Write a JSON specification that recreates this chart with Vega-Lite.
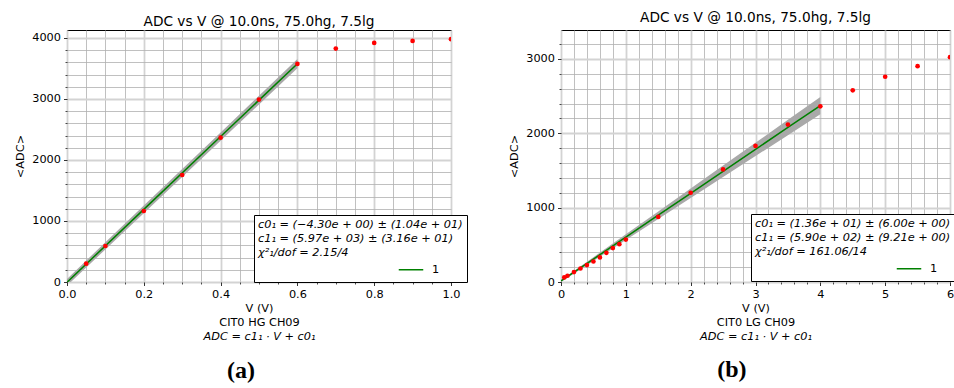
{
  "$schema": "https://vega.github.io/schema/vega-lite/v6.json",
  "background": "white",
  "padding": {"left": 14, "top": 10, "right": 0, "bottom": 0},
  "spacing": 40,
  "datasets": {
    "hg_pts": [
      {"V": 0.05, "adc": 300}, {"V": 0.1, "adc": 590}, {"V": 0.2, "adc": 1164}, {"V": 0.3, "adc": 1754},
      {"V": 0.4, "adc": 2366}, {"V": 0.5, "adc": 2989}, {"V": 0.6, "adc": 3574}, {"V": 0.7, "adc": 3825},
      {"V": 0.8, "adc": 3918}, {"V": 0.9, "adc": 3951}, {"V": 1.0, "adc": 3979}
    ],
    "hg_fit": [
      {"V": 0.0, "fit": -4.3, "lo": -60, "hi": 51},
      {"V": 0.2, "fit": 1189.7, "lo": 1127, "hi": 1252},
      {"V": 0.4, "fit": 2383.7, "lo": 2315, "hi": 2452},
      {"V": 0.6, "fit": 3577.7, "lo": 3502, "hi": 3653}
    ],
    "lg_pts": [
      {"V": 0.05, "adc": 62}, {"V": 0.1, "adc": 84}, {"V": 0.2, "adc": 134}, {"V": 0.3, "adc": 182},
      {"V": 0.4, "adc": 228}, {"V": 0.5, "adc": 276}, {"V": 0.6, "adc": 330}, {"V": 0.7, "adc": 393},
      {"V": 0.8, "adc": 456}, {"V": 0.9, "adc": 509}, {"V": 1.0, "adc": 571}, {"V": 1.5, "adc": 875},
      {"V": 2.0, "adc": 1201}, {"V": 2.5, "adc": 1515}, {"V": 3.0, "adc": 1831}, {"V": 3.5, "adc": 2118},
      {"V": 4.0, "adc": 2363}, {"V": 4.5, "adc": 2578}, {"V": 5.0, "adc": 2761}, {"V": 5.5, "adc": 2903},
      {"V": 6.0, "adc": 3024}
    ],
    "lg_fit": [
      {"V": 0.0, "fit": 13.6, "lo": -0.4, "hi": 27.6},
      {"V": 0.5, "fit": 308.6, "lo": 283.6, "hi": 333.6},
      {"V": 1.0, "fit": 603.6, "lo": 565.6, "hi": 641.6},
      {"V": 1.5, "fit": 898.6, "lo": 847.6, "hi": 949.6},
      {"V": 2.0, "fit": 1193.6, "lo": 1129.6, "hi": 1257.6},
      {"V": 2.5, "fit": 1488.6, "lo": 1411.6, "hi": 1565.6},
      {"V": 3.0, "fit": 1783.6, "lo": 1693.6, "hi": 1873.6},
      {"V": 3.5, "fit": 2078.6, "lo": 1975.6, "hi": 2181.6},
      {"V": 4.0, "fit": 2373.6, "lo": 2257.6, "hi": 2489.6}
    ]
  },
  "config": {
    "font": "DejaVu Sans",
    "view": {"stroke": "black", "strokeWidth": 1},
    "axis": {
      "labelFont": "DejaVu Sans", "labelFontSize": 11.3, "labelColor": "black",
      "titleFont": "DejaVu Sans", "titleFontSize": 11.3, "titleFontWeight": "normal", "titleColor": "black",
      "tickColor": "black", "domain": false, "labelFlush": false, "labelOverlap": false
    },
    "legend": {
      "orient": "none", "titleFont": "DejaVu Sans", "titleFontSize": 11.3, "titleFontWeight": "normal",
      "titleFontStyle": "italic", "titleColor": "black", "titleLineHeight": 14, "titleLimit": 400, "titlePadding": 4,
      "labelFont": "DejaVu Sans", "labelFontSize": 11.3, "labelColor": "black",
      "strokeColor": "black", "fillColor": "white", "padding": 4,
      "symbolType": "stroke", "symbolStrokeWidth": 1.5, "symbolSize": 600, "clipHeight": 15
    }
  },
  "hconcat": [
    {
      "title": {"text": "(a)", "orient": "bottom", "anchor": "middle", "font": "Liberation Serif", "fontSize": 24, "fontWeight": "bold", "color": "black", "offset": 17},
      "vconcat": [
        {
          "width": 384, "height": 252,
          "title": {"text": "ADC vs V @ 10.0ns, 75.0hg, 7.5lg", "font": "DejaVu Sans", "fontSize": 13.7, "fontWeight": "normal", "color": "black", "offset": 1.5},
          "layer": [
            {
              "data": {"name": "hg_fit"},
              "mark": {"type": "area", "color": "#a9a9a9", "opacity": 1, "clip": true},
              "encoding": {
                "x": {"field": "V", "type": "quantitative", "scale": {"domain": [0, 1], "nice": false},
                  "axis": {"orient": "bottom", "values": [0.05, 0.1, 0.15, 0.25, 0.3, 0.35, 0.45, 0.5, 0.55, 0.65, 0.7, 0.75, 0.85, 0.9, 0.95],
                    "labels": false, "tickSize": 2, "tickWidth": 0.7, "grid": true, "gridColor": "#b0b0b0", "gridWidth": 0.8,
                    "title": "ADC = c1₁ · V + c0₁", "titleFontStyle": "italic", "titlePadding": 46}},
                "y": {"field": "lo", "type": "quantitative", "scale": {"domain": [0, 4130], "nice": false, "zero": false},
                  "axis": {"orient": "left", "values": [200, 400, 600, 800, 1200, 1400, 1600, 1800, 2200, 2400, 2600, 2800, 3200, 3400, 3600, 3800],
                    "labels": false, "tickSize": 2, "tickWidth": 0.7, "grid": true, "gridColor": "#b0b0b0", "gridWidth": 0.8, "title": null}},
                "y2": {"field": "hi"}
              }
            },
            {
              "data": {"name": "hg_fit"},
              "mark": {"type": "line", "strokeWidth": 1.5, "clip": true},
              "encoding": {
                "x": {"field": "V", "type": "quantitative",
                  "axis": {"orient": "bottom", "values": [0, 0.2, 0.4, 0.6, 0.8, 1.0], "format": ".1f", "tickSize": 3.5, "tickWidth": 0.8,
                    "labelPadding": 3, "grid": true, "gridColor": "#d3d3d3", "gridWidth": 1.8,
                    "title": ["V (V)", "CIT0 HG CH09"], "titlePadding": 3, "titleLineHeight": 13.5}},
                "y": {"field": "fit", "type": "quantitative",
                  "axis": {"orient": "left", "values": [0, 1000, 2000, 3000, 4000], "format": "d", "tickSize": 3.5, "tickWidth": 0.8,
                    "labelPadding": 3, "grid": true, "gridColor": "#d3d3d3", "gridWidth": 1.8,
                    "title": "<ADC>", "titlePadding": 6}},
                "color": {"datum": "1", "type": "nominal", "scale": {"range": ["green"]},
                  "legend": {"title": ["c0₁ = (−4.30e + 00) ± (1.04e + 01)", "c1₁ = (5.97e + 03) ± (3.16e + 01)", "χ²₁/dof = 2.15/4"],
                    "legendX": 187, "legendY": 185, "symbolOffset": 140, "labelOffset": 8}}
              }
            },
            {
              "data": {"name": "hg_pts"},
              "mark": {"type": "circle", "color": "red", "size": 22, "opacity": 1, "clip": true},
              "encoding": {
                "x": {"field": "V", "type": "quantitative", "axis": null},
                "y": {"field": "adc", "type": "quantitative", "axis": null}
              }
            }
          ],
          "resolve": {"axis": {"x": "independent", "y": "independent"}}
        }
      ]
    },
    {
      "title": {"text": "(b)", "orient": "bottom", "anchor": "middle", "font": "Liberation Serif", "fontSize": 24, "fontWeight": "bold", "color": "black", "offset": 16},
      "vconcat": [
        {
          "width": 389, "height": 252,
          "title": {"text": "ADC vs V @ 10.0ns, 75.0hg, 7.5lg", "font": "DejaVu Sans", "fontSize": 13.7, "fontWeight": "normal", "color": "black", "offset": 5.5},
          "layer": [
            {
              "data": {"name": "lg_fit"},
              "mark": {"type": "area", "color": "#a9a9a9", "opacity": 1, "clip": true},
              "encoding": {
                "x": {"field": "V", "type": "quantitative", "scale": {"domain": [0, 6], "nice": false},
                  "axis": {"orient": "bottom", "values": [0.2, 0.4, 0.6, 0.8, 1.2, 1.4, 1.6, 1.8, 2.2, 2.4, 2.6, 2.8, 3.2, 3.4, 3.6, 3.8, 4.2, 4.4, 4.6, 4.8, 5.2, 5.4, 5.6, 5.8],
                    "labels": false, "tickSize": 2, "tickWidth": 0.7, "grid": true, "gridColor": "#b0b0b0", "gridWidth": 0.8,
                    "title": "ADC = c1₁ · V + c0₁", "titleFontStyle": "italic", "titlePadding": 46}},
                "y": {"field": "lo", "type": "quantitative", "scale": {"domain": [0, 3390], "nice": false, "zero": false},
                  "axis": {"orient": "left", "values": [200, 400, 600, 800, 1200, 1400, 1600, 1800, 2200, 2400, 2600, 2800, 3200],
                    "labels": false, "tickSize": 2, "tickWidth": 0.7, "grid": true, "gridColor": "#b0b0b0", "gridWidth": 0.8, "title": null}},
                "y2": {"field": "hi"}
              }
            },
            {
              "data": {"name": "lg_fit"},
              "mark": {"type": "line", "strokeWidth": 1.5, "clip": true},
              "encoding": {
                "x": {"field": "V", "type": "quantitative",
                  "axis": {"orient": "bottom", "values": [0, 1, 2, 3, 4, 5, 6], "format": "d", "tickSize": 3.5, "tickWidth": 0.8,
                    "labelPadding": 3, "grid": true, "gridColor": "#d3d3d3", "gridWidth": 1.8,
                    "title": ["V (V)", "CIT0 LG CH09"], "titlePadding": 3, "titleLineHeight": 13.5}},
                "y": {"field": "fit", "type": "quantitative",
                  "axis": {"orient": "left", "values": [0, 1000, 2000, 3000], "format": "d", "tickSize": 3.5, "tickWidth": 0.8,
                    "labelPadding": 3, "grid": true, "gridColor": "#d3d3d3", "gridWidth": 1.8,
                    "title": "<ADC>", "titlePadding": 6}},
                "color": {"datum": "1", "type": "nominal", "scale": {"range": ["green"]},
                  "legend": {"title": ["c0₁ = (1.36e + 01) ± (6.00e + 00)", "c1₁ = (5.90e + 02) ± (9.21e + 00)", "χ²₁/dof = 161.06/14"],
                    "legendX": 190, "legendY": 184, "symbolOffset": 141, "labelOffset": 8}}
              }
            },
            {
              "data": {"name": "lg_pts"},
              "mark": {"type": "circle", "color": "red", "size": 22, "opacity": 1, "clip": true},
              "encoding": {
                "x": {"field": "V", "type": "quantitative", "axis": null},
                "y": {"field": "adc", "type": "quantitative", "axis": null}
              }
            }
          ],
          "resolve": {"axis": {"x": "independent", "y": "independent"}}
        }
      ]
    }
  ],
  "resolve": {"scale": {"color": "independent"}, "legend": {"color": "independent"}}
}
